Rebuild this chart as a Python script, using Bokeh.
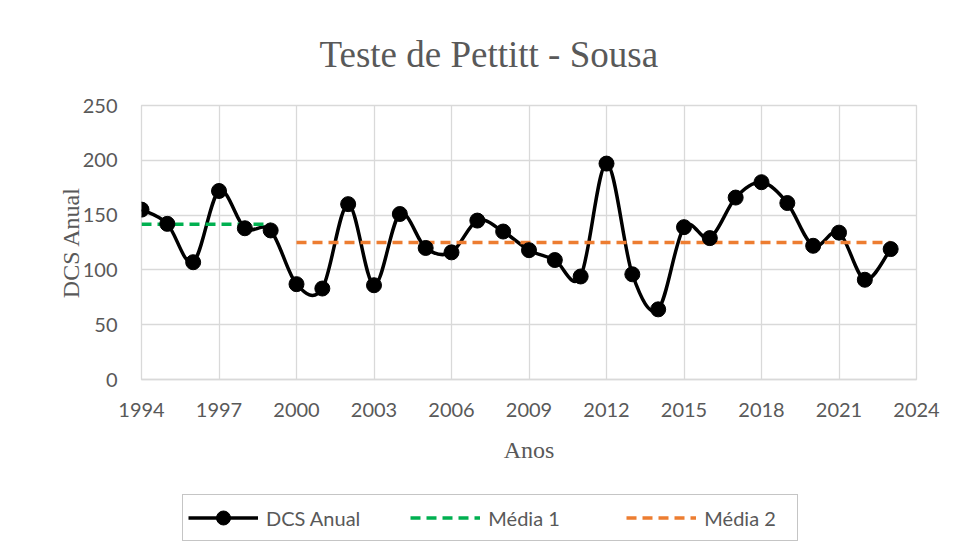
from bokeh.plotting import figure
from bokeh.layouts import column
from bokeh.models import Legend, LegendItem, Range1d
from bokeh.embed import file_html
from bokeh.resources import INLINE

# ---- data ----
years = list(range(1994, 2024))
dcs = [155, 142, 107, 172, 138, 136, 87, 83, 160, 86, 151, 120, 116, 145, 135,
       118, 109, 94, 197, 96, 64, 139, 129, 166, 180, 161, 122, 134, 91, 119]
media1_years = [1994, 1999]
media1 = [141.7, 141.7]
media2_years = [2000, 2023]
media2 = [125.1, 125.1]
x_ticks = list(range(1994, 2025, 3))
y_ticks = [0, 50, 100, 150, 200, 250]
title_text = "Teste de Pettitt - Sousa"
x_label = "Anos"
y_label = "DCS Anual"
series_names = ["DCS Anual", "Média 1", "Média 2"]

GRAY_TXT = "#595959"
GRID = "#d9d9d9"
SANS = "Lato"
SERIF = "Liberation Serif"
BLACK = "black"
GREEN = "#00b050"
ORANGE = "#ed7d31"

p = figure(width=954, height=470, x_range=Range1d(1994, 2024), y_range=Range1d(0, 250),
           output_backend="svg", toolbar_location=None,
           min_border_left=141, min_border_right=38, min_border_top=105, min_border_bottom=91)

p.title.text = title_text
p.title.text_font = SERIF
p.title.text_font_size = "37px"
p.title.text_font_style = "normal"
p.title.text_color = GRAY_TXT
p.title.align = "left"
p.title.offset = 178
p.title.standoff = 62

p.outline_line_color = GRID
p.outline_line_width = 1.3
p.xgrid.grid_line_color = GRID
p.ygrid.grid_line_color = GRID
p.xgrid.grid_line_width = 1.3
p.ygrid.grid_line_width = 1.3

p.xaxis.ticker = x_ticks
p.yaxis.ticker = y_ticks
for ax in (p.xaxis[0], p.yaxis[0]):
    ax.major_tick_line_color = None
    ax.minor_tick_line_color = None
    ax.major_tick_out = 0
    ax.major_label_text_font = SANS
    ax.major_label_text_font_size = "20px"
    ax.major_label_text_color = GRAY_TXT
    ax.axis_label_text_font = SERIF
    ax.axis_label_text_font_size = "24px"
    ax.axis_label_text_font_style = "normal"
    ax.axis_label_text_color = GRAY_TXT
p.xaxis.axis_line_color = GRID
p.xaxis.axis_line_width = 1.3
p.yaxis.axis_line_color = None
p.xaxis.major_label_standoff = 23
p.yaxis.major_label_standoff = 24
p.xaxis.axis_label = x_label
p.yaxis.axis_label = y_label
p.xaxis.axis_label_standoff = 17
p.yaxis.axis_label_standoff = -4

# smoothed curve (Excel-like) through the data points
n = len(years)
bx0, by0, bx1, by1, cx0, cy0, cx1, cy1 = [], [], [], [], [], [], [], []
for i in range(n - 1):
    im = max(i - 1, 0)
    ip = min(i + 2, n - 1)
    bx0.append(years[i]); by0.append(dcs[i])
    bx1.append(years[i + 1]); by1.append(dcs[i + 1])
    cx0.append(years[i] + (years[i + 1] - years[im]) / 6.0)
    cy0.append(dcs[i] + (dcs[i + 1] - dcs[im]) / 6.0)
    cx1.append(years[i + 1] - (years[ip] - years[i]) / 6.0)
    cy1.append(dcs[i + 1] - (dcs[ip] - dcs[i]) / 6.0)


def draw_series(fig):
    rc = fig.bezier(x0=bx0, y0=by0, x1=bx1, y1=by1, cx0=cx0, cy0=cy0, cx1=cx1, cy1=cy1,
                    line_color=BLACK, line_width=3.5)
    r1 = fig.line(media1_years, media1, line_color=GREEN, line_width=3.5, line_dash="10 6")
    r2 = fig.line(media2_years, media2, line_color=ORANGE, line_width=3.5, line_dash="10 6")
    rp = fig.scatter(years, dcs, size=15, fill_color=BLACK, line_color=BLACK)
    return rc, r1, r2, rp


draw_series(p)

# legend strip below the chart (its own small plot so the legend is not clipped)
q = figure(width=954, height=79, x_range=Range1d(0, 1), y_range=Range1d(0, 1),
           output_backend="svg", toolbar_location=None,
           x_axis_location=None, y_axis_location=None,
           min_border_left=0, min_border_right=0, min_border_top=0, min_border_bottom=0)
q.xgrid.visible = False
q.ygrid.visible = False
q.outline_line_color = None
qc, q1, q2, qp = draw_series(q)   # data lies outside this strip's ranges: only the legend shows

legend = Legend(items=[
    LegendItem(label=series_names[0], renderers=[qc, qp]),
    LegendItem(label=series_names[1], renderers=[q1]),
    LegendItem(label=series_names[2], renderers=[q2]),
], orientation="horizontal", location=(41, 8),
    border_line_color="#8c8c8c", border_line_width=1.5,
    background_fill_color="white", background_fill_alpha=1,
    label_text_font=SANS, label_text_font_size="20px", label_text_color=GRAY_TXT,
    glyph_width=70, glyph_height=35, label_standoff=8, spacing=50, padding=5,
    label_width=88, margin=0)
q.add_layout(legend, "center")

layout = column(p, q, spacing=0)

open("out.html", "w").write(file_html(layout, INLINE))
